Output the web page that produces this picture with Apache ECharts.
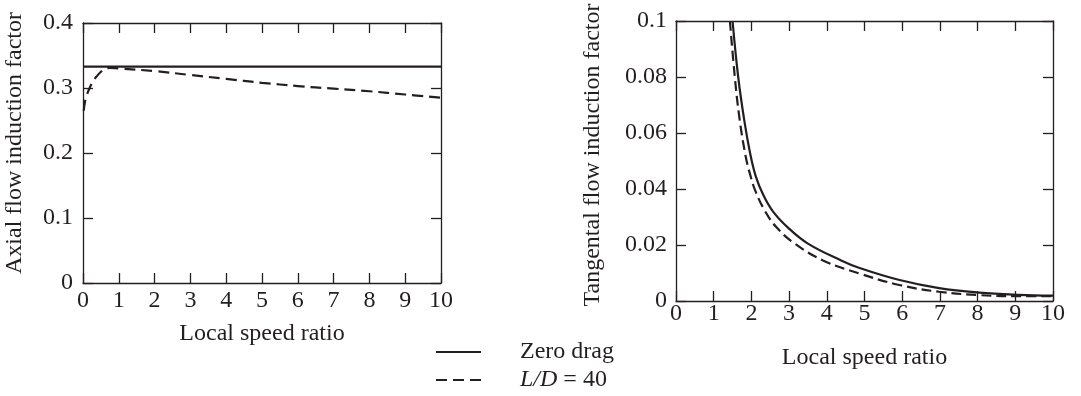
<!DOCTYPE html>
<html>
<head>
<meta charset="utf-8">
<script src="https://cdn.jsdelivr.net/npm/echarts@6/dist/echarts.min.js"></script>
<style>html,body{margin:0;padding:0;background:#fff;}#c{width:1081px;height:396px;}</style>
</head>
<body>
<div id="c"></div>
<script>
// ---- Data ----
const xTicks = [0, 1, 2, 3, 4, 5, 6, 7, 8, 9, 10];
const axialZeroX = [0, 10];
const axialZeroY = [0.333, 0.333];
const axialLDX = [0.02, 0.05, 0.1, 0.2, 0.3, 0.4, 0.5, 0.6, 0.75, 1, 2, 3, 4, 5, 6, 7, 8, 9, 10];
const axialLDY = [0.265, 0.277, 0.288, 0.302, 0.312, 0.319, 0.325, 0.329, 0.331, 0.330, 0.326, 0.320, 0.314, 0.308, 0.303, 0.299, 0.295, 0.290, 0.285];
const tanZeroX = [1.50, 1.65, 1.81, 1.97, 2.11, 2.31, 2.57, 2.97, 3.50, 4.38, 4.87, 5.93, 6.98, 8.04, 9.1, 10];
const tanZeroY = [0.100, 0.080, 0.0646, 0.0525, 0.0448, 0.0380, 0.0320, 0.0262, 0.0205, 0.0145, 0.0118, 0.0075, 0.0046, 0.0030, 0.0022, 0.0019];
const tanLDX = [1.43, 1.56, 1.69, 1.85, 1.97, 2.10, 2.35, 2.66, 3.15, 3.90, 4.87, 5.93, 6.98, 8.04, 9.1, 10];
const tanLDY = [0.100, 0.080, 0.0646, 0.0515, 0.0450, 0.0395, 0.0324, 0.0264, 0.0205, 0.0145, 0.0098, 0.0057, 0.0033, 0.0021, 0.0017, 0.0017];
const seriesNames = ['Zero drag', 'L/D = 40'];

const zip = (xs, ys) => xs.map((x, i) => [x, ys[i]]);
const INK = '#231f20';
const FONT = '"Liberation Serif", "Times New Roman", serif';
const FS = 24;

function baseAxis(extra) {
  return Object.assign({
    type: 'value',
    axisLine: { show: true, onZero: false, lineStyle: { color: INK, width: 1.3 } },
    axisTick: { show: true, inside: true, length: 10, lineStyle: { color: INK, width: 1.3 } },
    splitLine: { show: false },
    axisLabel: { color: INK, fontFamily: FONT, fontSize: FS },
    nameTextStyle: { color: INK, fontFamily: FONT, fontSize: FS }
  }, extra);
}

const chart = echarts.init(document.getElementById('c'), null, { renderer: 'canvas' });
const option = {
  animation: false,
  backgroundColor: '#fff',
  grid: [
    { left: 83, top: 23, width: 358, height: 260 },
    { left: 676, top: 21, width: 377, height: 280 }
  ],
  xAxis: [
    baseAxis({ gridIndex: 0, position: 'bottom', min: xTicks[0], max: xTicks[xTicks.length - 1], interval: 1,
      name: 'Local speed ratio', nameLocation: 'middle', nameGap: 39,
      axisLabel: { color: INK, fontFamily: FONT, fontSize: FS, margin: 6 } }),
    baseAxis({ gridIndex: 0, position: 'top', min: 0, max: 10, interval: 1, axisLabel: { show: false } }),
    baseAxis({ gridIndex: 1, position: 'bottom', min: xTicks[0], max: xTicks[xTicks.length - 1], interval: 1,
      name: 'Local speed ratio', nameLocation: 'middle', nameGap: 45,
      axisLabel: { color: INK, fontFamily: FONT, fontSize: FS, margin: 1 } }),
    baseAxis({ gridIndex: 1, position: 'top', min: 0, max: 10, interval: 1, axisLabel: { show: false } })
  ],
  yAxis: [
    baseAxis({ gridIndex: 0, position: 'left', min: 0, max: 0.4, interval: 0.1,
      name: 'Axial flow induction factor', nameLocation: 'middle', nameGap: 56,
      nameTextStyle: { color: INK, fontFamily: FONT, fontSize: FS, padding: [0, 0, 0, 20] },
      axisLabel: { color: INK, fontFamily: FONT, fontSize: FS, margin: 10 } }),
    baseAxis({ gridIndex: 0, position: 'right', min: 0, max: 0.4, interval: 0.1, axisLabel: { show: false } }),
    baseAxis({ gridIndex: 1, position: 'left', min: 0, max: 0.1, interval: 0.02,
      name: 'Tangental flow induction factor', nameLocation: 'middle', nameGap: 71,
      nameTextStyle: { color: INK, fontFamily: FONT, fontSize: FS, padding: [0, 0, 0, 12] },
      axisLabel: { color: INK, fontFamily: FONT, fontSize: FS, margin: 9 } }),
    baseAxis({ gridIndex: 1, position: 'right', min: 0, max: 0.1, interval: 0.02, axisLabel: { show: false } })
  ],
  legend: {
    orient: 'vertical',
    left: 435,
    top: 340,
    padding: 0,
    itemWidth: 45,
    itemHeight: 14,
    itemGap: 4,
    data: seriesNames,
    itemStyle: { opacity: 0 },
    formatter: n => n === 'L/D = 40' ? '{i|L/D} = 40' : n,
    textStyle: {
      color: INK, fontFamily: FONT, fontSize: FS, lineHeight: 24, padding: [0, 0, 0, 34],
      rich: { i: { fontStyle: 'italic', color: INK, fontFamily: FONT, fontSize: FS, lineHeight: 24 } }
    }
  },
  series: [
    { name: seriesNames[0], type: 'line', xAxisIndex: 0, yAxisIndex: 0, symbol: 'none',
      data: zip(axialZeroX, axialZeroY), lineStyle: { color: INK, width: 2.2, type: 'solid' }, itemStyle: { color: INK } },
    { name: seriesNames[1], type: 'line', xAxisIndex: 0, yAxisIndex: 0, symbol: 'none', smooth: 0.4,
      data: zip(axialLDX, axialLDY), lineStyle: { color: INK, width: 2.2, type: [11, 6] }, itemStyle: { color: INK } },
    { name: seriesNames[0], type: 'line', xAxisIndex: 2, yAxisIndex: 2, symbol: 'none', smooth: 0.4,
      data: zip(tanZeroX, tanZeroY), lineStyle: { color: INK, width: 2.2, type: 'solid' }, itemStyle: { color: INK } },
    { name: seriesNames[1], type: 'line', xAxisIndex: 2, yAxisIndex: 2, symbol: 'none', smooth: 0.4,
      data: zip(tanLDX, tanLDY), lineStyle: { color: INK, width: 2.2, type: [10, 5] }, itemStyle: { color: INK } }
  ]
};
chart.setOption(option);
</script>
</body>
</html>
